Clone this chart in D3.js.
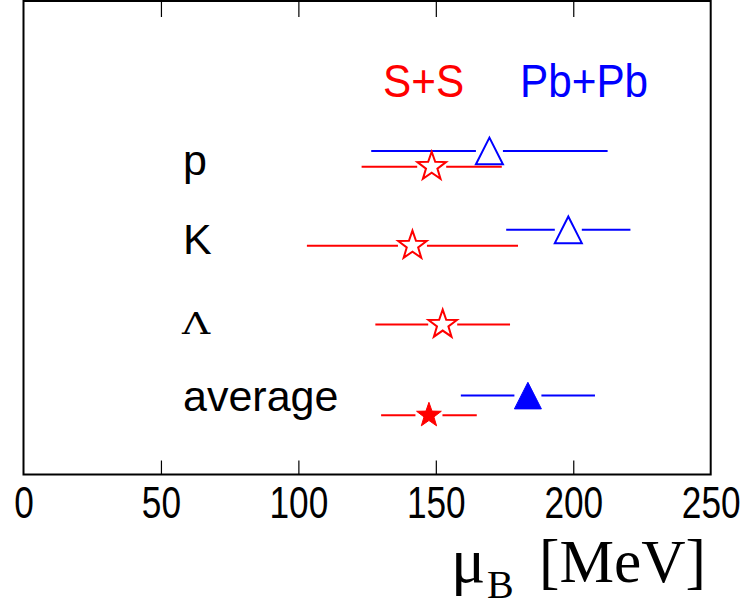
<!DOCTYPE html>
<html><head><meta charset="utf-8">
<script src="https://cdn.jsdelivr.net/npm/d3@7"></script>
<style>html,body{margin:0;padding:0;background:#fff;}</style>
</head><body><svg id="c" width="748" height="608"></svg>
<script>
// ---- data ----
const particles = ["p", "K", "Λ", "average"];
const labelY = [3.8, 2.8, 1.8, 0.8];
// S+S (red stars)
const ssValue = [148.5, 141.5, 152.5, 147.5];
const ssError = [25.5, 38.4, 24.5, 17.4];
const ssY = [3.9, 2.9, 1.9, 0.75];
const ssFilled = [false, false, false, true];
// Pb+Pb (blue triangles)
const pbParticles = ["p", "K", "average"];
const pbValue = [169.5, 198.2, 183.5];
const pbError = [43, 22.6, 24.4];
const pbY = [4.1, 3.1, 1.0];
const pbFilled = [false, false, true];
const xTicks = [0, 50, 100, 150, 200, 250];
const legendLabels = ["S+S", "Pb+Pb"];
const legendX = [130.8, 180.6];

// ---- layout ----
const L = 23.5, R = 710.7, T = 1, B = 474.5;
const svg = d3.select("#c");
const x = d3.scaleLinear().domain([0, 250]).range([L, R]);
const y = d3.scaleLinear().domain([0, 6]).range([B, T]);
const RED = "#ff0000", BLUE = "#0000ff";

// bottom axis (ticks inward)
const gb = svg.append("g").attr("transform", `translate(0,${B})`)
  .call(d3.axisBottom(x).tickValues(xTicks).tickSizeInner(-14).tickSizeOuter(0).tickFormat(d3.format("d")));
gb.select(".domain").remove();
gb.selectAll(".tick line").attr("stroke", "#000").attr("stroke-width", 1.2)
  .filter(d => d === 0 || d === 250).remove();
gb.selectAll(".tick text").attr("y", 43.5).attr("dy", null)
  .attr("font-family", "Liberation Sans, Arial, sans-serif").attr("font-size", 44)
  .attr("fill", "#000").attr("transform", "scale(0.8,1)");

// top axis
const gt = svg.append("g").attr("transform", `translate(0,${T})`)
  .call(d3.axisTop(x).tickValues(xTicks.filter(d => d > 0 && d < 250)).tickSizeInner(-16).tickSizeOuter(0).tickFormat(""));
gt.select(".domain").remove();
gt.selectAll(".tick line").attr("stroke", "#000").attr("stroke-width", 1.2);

// frame
svg.append("rect").attr("x", L).attr("y", T).attr("width", R - L).attr("height", B - T)
  .attr("fill", "none").attr("stroke", "#000").attr("stroke-width", 2);

// row labels
svg.selectAll("text.lab").data(particles).enter().append("text").attr("class", "lab")
  .attr("x", 0).attr("y", 0)
  .attr("font-family", d => d === "Λ" ? "DejaVu Serif, Liberation Serif, serif" : "Liberation Sans, Arial, sans-serif")
  .attr("font-size", d => d === "Λ" ? 30 : 43)
  .attr("transform", (d, i) => d === "Λ" ? `translate(182,${y(labelY[i]) + 2}) scale(1.3,1)` : `translate(183,${y(labelY[i])})`)
  .text(d => d);

// legend
svg.selectAll("text.leg").data(legendLabels).enter().append("text").attr("class", "leg")
  .attr("font-family", "Liberation Sans, Arial, sans-serif").attr("font-size", 46)
  .attr("fill", (d, i) => i === 0 ? RED : BLUE)
  .attr("transform", (d, i) => `translate(${x(legendX[i])},${y(4.785)}) scale(0.92,1)`)
  .text(d => d);

// markers
function starPath(Ro, ratio) {
  const pts = [];
  for (let k = 0; k < 10; k++) {
    const a = -Math.PI / 2 + k * Math.PI / 5;
    const r = k % 2 === 0 ? Ro : Ro * ratio;
    pts.push([r * Math.cos(a), r * Math.sin(a)]);
  }
  return "M" + pts.map(p => p.join(",")).join("L") + "Z";
}
function triPath(h, w) {
  return `M0,${-h}L${w},${h}L${-w},${h}Z`;
}

function drawSeries(values, errors, ys, filled, color, kind) {
  const g = svg.append("g");
  values.forEach((v, i) => {
    const cx = x(v), cy = y(ys[i]);
    const gap = kind === "star" ? (filled[i] ? 13.5 : 14.5) : 13.5;
    g.append("line").attr("x1", x(v - errors[i])).attr("x2", cx - gap).attr("y1", cy).attr("y2", cy)
      .attr("stroke", color).attr("stroke-width", 2);
    g.append("line").attr("x1", cx + gap).attr("x2", x(v + errors[i])).attr("y1", cy).attr("y2", cy)
      .attr("stroke", color).attr("stroke-width", 2);
    const d = kind === "star" ? starPath(filled[i] ? 13 : 15, 0.4) : triPath(13.3, 13.5);
    g.append("path").attr("d", d).attr("transform", `translate(${cx},${cy})`)
      .attr("fill", filled[i] ? color : "none").attr("stroke", color)
      .attr("stroke-width", filled[i] ? 1 : 2).attr("stroke-linejoin", "miter");
  });
}
drawSeries(pbValue, pbError, pbY, pbFilled, BLUE, "tri");
drawSeries(ssValue, ssError, ssY, ssFilled, RED, "star");

// axis title
const serif = "Liberation Serif, Times New Roman, serif";
svg.append("text").attr("x", 451).attr("y", 582).attr("font-family", serif).attr("font-size", 64).text("μ");
svg.append("text").attr("x", 487).attr("y", 598).attr("font-family", serif).attr("font-size", 40).text("B");
svg.append("text").attr("x", 539).attr("y", 582).attr("font-family", serif).attr("font-size", 61)
  .attr("textLength", 167).attr("lengthAdjust", "spacingAndGlyphs").text("[MeV]");
</script></body></html>
